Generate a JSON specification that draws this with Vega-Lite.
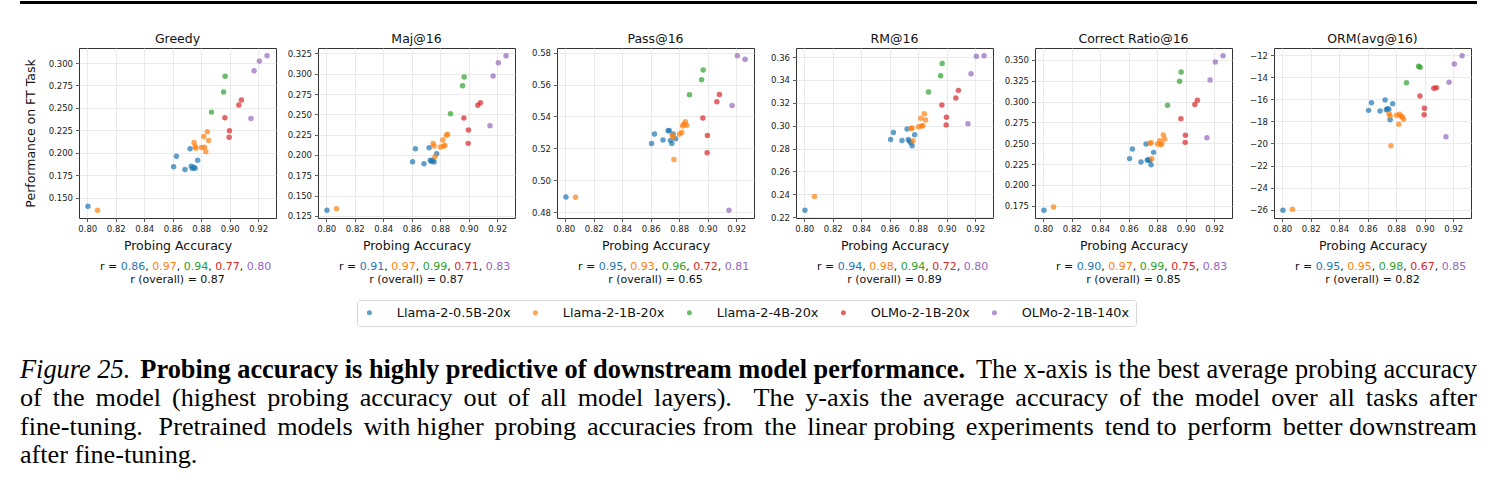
{
  "$schema": "https://vega.github.io/schema/vega-lite/v6.json",
  "background": "white",
  "padding": {"left": 18, "top": 0, "right": 10, "bottom": 10},
  "datasets": {
    "ckpt": [
      {"model": "Llama-2-0.5B-20x", "acc": 0.8005, "greedy": 0.1405, "maj": 0.132, "pass": 0.4895, "rm": 0.226, "cr": 0.1695, "orm": -26.05},
      {"model": "Llama-2-0.5B-20x", "acc": 0.8606, "greedy": 0.1845, "maj": 0.1917, "pass": 0.523, "rm": 0.288, "cr": 0.2315, "orm": -17.0},
      {"model": "Llama-2-0.5B-20x", "acc": 0.8626, "greedy": 0.1961, "maj": 0.2077, "pass": 0.529, "rm": 0.294, "cr": 0.243, "orm": -16.3},
      {"model": "Llama-2-0.5B-20x", "acc": 0.8686, "greedy": 0.1815, "maj": 0.1893, "pass": 0.5253, "rm": 0.287, "cr": 0.2275, "orm": -17.05},
      {"model": "Llama-2-0.5B-20x", "acc": 0.8722, "greedy": 0.2044, "maj": 0.2089, "pass": 0.531, "rm": 0.297, "cr": 0.249, "orm": -16.05},
      {"model": "Llama-2-0.5B-20x", "acc": 0.873, "greedy": 0.185, "maj": 0.1935, "pass": 0.5312, "rm": 0.288, "cr": 0.2295, "orm": -16.95},
      {"model": "Llama-2-0.5B-20x", "acc": 0.8738, "greedy": 0.1825, "maj": 0.192, "pass": 0.525, "rm": 0.2865, "cr": 0.2305, "orm": -16.85},
      {"model": "Llama-2-0.5B-20x", "acc": 0.8748, "greedy": 0.184, "maj": 0.1935, "pass": 0.523, "rm": 0.285, "cr": 0.229, "orm": -16.9},
      {"model": "Llama-2-0.5B-20x", "acc": 0.8757, "greedy": 0.1828, "maj": 0.1915, "pass": 0.529, "rm": 0.2825, "cr": 0.224, "orm": -17.85},
      {"model": "Llama-2-0.5B-20x", "acc": 0.8775, "greedy": 0.1916, "maj": 0.2016, "pass": 0.526, "rm": 0.292, "cr": 0.239, "orm": -16.4},
      {"model": "Llama-2-1B-20x", "acc": 0.8072, "greedy": 0.136, "maj": 0.134, "pass": 0.4893, "rm": 0.238, "cr": 0.1735, "orm": -25.95},
      {"model": "Llama-2-1B-20x", "acc": 0.875, "greedy": 0.2114, "maj": 0.214, "pass": 0.5282, "rm": 0.2975, "cr": 0.25, "orm": -17.3},
      {"model": "Llama-2-1B-20x", "acc": 0.8757, "greedy": 0.2069, "maj": 0.211, "pass": 0.5272, "rm": 0.298, "cr": 0.2505, "orm": -17.5},
      {"model": "Llama-2-1B-20x", "acc": 0.8763, "greedy": 0.205, "maj": 0.1979, "pass": 0.513, "rm": 0.2868, "cr": 0.2315, "orm": -20.2},
      {"model": "Llama-2-1B-20x", "acc": 0.8802, "greedy": 0.2058, "maj": 0.2098, "pass": 0.529, "rm": 0.299, "cr": 0.249, "orm": -17.45},
      {"model": "Llama-2-1B-20x", "acc": 0.8818, "greedy": 0.2181, "maj": 0.2184, "pass": 0.53, "rm": 0.3065, "cr": 0.253, "orm": -18.25},
      {"model": "Llama-2-1B-20x", "acc": 0.8824, "greedy": 0.2062, "maj": 0.2107, "pass": 0.534, "rm": 0.2998, "cr": 0.248, "orm": -17.35},
      {"model": "Llama-2-1B-20x", "acc": 0.8832, "greedy": 0.2013, "maj": 0.212, "pass": 0.5352, "rm": 0.3, "cr": 0.2495, "orm": -17.5},
      {"model": "Llama-2-1B-20x", "acc": 0.8843, "greedy": 0.2234, "maj": 0.2242, "pass": 0.5367, "rm": 0.3105, "cr": 0.26, "orm": -17.6},
      {"model": "Llama-2-1B-20x", "acc": 0.8852, "greedy": 0.2136, "maj": 0.2255, "pass": 0.5345, "rm": 0.305, "cr": 0.255, "orm": -17.8},
      {"model": "Llama-2-4B-20x", "acc": 0.8872, "greedy": 0.2453, "maj": 0.2508, "pass": 0.5536, "rm": 0.3295, "cr": 0.2955, "orm": -14.5},
      {"model": "Llama-2-4B-20x", "acc": 0.8957, "greedy": 0.2678, "maj": 0.2852, "pass": 0.5631, "rm": 0.3437, "cr": 0.3244, "orm": -13.0},
      {"model": "Llama-2-4B-20x", "acc": 0.8968, "greedy": 0.2853, "maj": 0.2959, "pass": 0.5692, "rm": 0.3545, "cr": 0.3355, "orm": -13.1},
      {"model": "OLMo-2-1B-20x", "acc": 0.8966, "greedy": 0.2391, "maj": 0.2455, "pass": 0.539, "rm": 0.3181, "cr": 0.2795, "orm": -15.7},
      {"model": "OLMo-2-1B-20x", "acc": 0.8996, "greedy": 0.2174, "maj": 0.2143, "pass": 0.5173, "rm": 0.3007, "cr": 0.251, "orm": -17.4},
      {"model": "OLMo-2-1B-20x", "acc": 0.8998, "greedy": 0.2245, "maj": 0.2307, "pass": 0.5281, "rm": 0.3074, "cr": 0.2595, "orm": -16.8},
      {"model": "OLMo-2-1B-20x", "acc": 0.9064, "greedy": 0.2532, "maj": 0.2611, "pass": 0.5492, "rm": 0.3242, "cr": 0.2965, "orm": -15.0},
      {"model": "OLMo-2-1B-20x", "acc": 0.9082, "greedy": 0.2588, "maj": 0.2643, "pass": 0.5538, "rm": 0.3309, "cr": 0.3015, "orm": -14.95},
      {"model": "OLMo-2-1B-140x", "acc": 0.9149, "greedy": 0.2383, "maj": 0.236, "pass": 0.4812, "rm": 0.3018, "cr": 0.2565, "orm": -19.4},
      {"model": "OLMo-2-1B-140x", "acc": 0.9171, "greedy": 0.2913, "maj": 0.2971, "pass": 0.5469, "rm": 0.3454, "cr": 0.326, "orm": -14.45},
      {"model": "OLMo-2-1B-140x", "acc": 0.9208, "greedy": 0.3021, "maj": 0.3135, "pass": 0.5781, "rm": 0.3608, "cr": 0.3475, "orm": -12.8},
      {"model": "OLMo-2-1B-140x", "acc": 0.9262, "greedy": 0.3081, "maj": 0.3221, "pass": 0.5759, "rm": 0.3612, "cr": 0.355, "orm": -12.05}
    ],
    "rvals": [
      {"metric": "greedy", "model": "Llama-2-0.5B-20x", "r": 0.86},
      {"metric": "greedy", "model": "Llama-2-1B-20x", "r": 0.97},
      {"metric": "greedy", "model": "Llama-2-4B-20x", "r": 0.94},
      {"metric": "greedy", "model": "OLMo-2-1B-20x", "r": 0.77},
      {"metric": "greedy", "model": "OLMo-2-1B-140x", "r": 0.80},
      {"metric": "maj", "model": "Llama-2-0.5B-20x", "r": 0.91},
      {"metric": "maj", "model": "Llama-2-1B-20x", "r": 0.97},
      {"metric": "maj", "model": "Llama-2-4B-20x", "r": 0.99},
      {"metric": "maj", "model": "OLMo-2-1B-20x", "r": 0.71},
      {"metric": "maj", "model": "OLMo-2-1B-140x", "r": 0.83},
      {"metric": "pass", "model": "Llama-2-0.5B-20x", "r": 0.95},
      {"metric": "pass", "model": "Llama-2-1B-20x", "r": 0.93},
      {"metric": "pass", "model": "Llama-2-4B-20x", "r": 0.96},
      {"metric": "pass", "model": "OLMo-2-1B-20x", "r": 0.72},
      {"metric": "pass", "model": "OLMo-2-1B-140x", "r": 0.81},
      {"metric": "rm", "model": "Llama-2-0.5B-20x", "r": 0.94},
      {"metric": "rm", "model": "Llama-2-1B-20x", "r": 0.98},
      {"metric": "rm", "model": "Llama-2-4B-20x", "r": 0.94},
      {"metric": "rm", "model": "OLMo-2-1B-20x", "r": 0.72},
      {"metric": "rm", "model": "OLMo-2-1B-140x", "r": 0.80},
      {"metric": "cr", "model": "Llama-2-0.5B-20x", "r": 0.90},
      {"metric": "cr", "model": "Llama-2-1B-20x", "r": 0.97},
      {"metric": "cr", "model": "Llama-2-4B-20x", "r": 0.99},
      {"metric": "cr", "model": "OLMo-2-1B-20x", "r": 0.75},
      {"metric": "cr", "model": "OLMo-2-1B-140x", "r": 0.83},
      {"metric": "orm", "model": "Llama-2-0.5B-20x", "r": 0.95},
      {"metric": "orm", "model": "Llama-2-1B-20x", "r": 0.95},
      {"metric": "orm", "model": "Llama-2-4B-20x", "r": 0.98},
      {"metric": "orm", "model": "OLMo-2-1B-20x", "r": 0.67},
      {"metric": "orm", "model": "OLMo-2-1B-140x", "r": 0.85}
    ],
    "overall": [
      {"metric": "greedy", "name": "Greedy", "label": "r (overall) = 0.87"},
      {"metric": "maj", "name": "Maj@16", "label": "r (overall) = 0.87"},
      {"metric": "pass", "name": "Pass@16", "label": "r (overall) = 0.65"},
      {"metric": "rm", "name": "RM@16", "label": "r (overall) = 0.89"},
      {"metric": "cr", "name": "Correct Ratio@16", "label": "r (overall) = 0.85"},
      {"metric": "orm", "name": "ORM(avg@16)", "label": "r (overall) = 0.82"}
    ]
  },
  "spacing": 42,
  "bounds": "flush",
  "hconcat": [
    {
      "width": 197, "height": 170,
      "layer": [
        {
          "data": {"name": "ckpt"},
          "mark": {"type": "circle", "size": 30, "opacity": 0.7},
          "encoding": {
            "x": {"field": "acc", "type": "quantitative", "scale": {"zero": false, "nice": false, "padding": 8.95}, "axis": {"values": [0.8, 0.82, 0.84, 0.86, 0.88, 0.9, 0.92], "format": ".2f", "title": "Probing Accuracy"}},
            "y": {"field": "greedy", "type": "quantitative", "scale": {"zero": false, "nice": false, "padding": 7.73}, "axis": {"values": [0.15, 0.175, 0.2, 0.225, 0.25, 0.275, 0.3], "format": ".3f", "title": "Performance on FT Task"}},
            "color": {"field": "model", "type": "nominal", "scale": {"domain": ["Llama-2-0.5B-20x", "Llama-2-1B-20x", "Llama-2-4B-20x", "OLMo-2-1B-20x", "OLMo-2-1B-140x"], "range": ["#1f77b4", "#ff7f0e", "#2ca02c", "#d62728", "#9467bd"]}, "legend": {"title": null}}
          }
        },
        {
          "data": {"name": "rvals"},
          "transform": [{"filter": "datum.metric === 'greedy'"}],
          "mark": {"type": "text", "fontSize": 11, "baseline": "middle", "y": 218.7},
          "encoding": {
            "x": {"field": "model", "type": "nominal", "scale": {"type": "point", "domain": ["Llama-2-0.5B-20x", "Llama-2-1B-20x", "Llama-2-4B-20x", "OLMo-2-1B-20x", "OLMo-2-1B-140x"], "range": [53.95, 179.95], "padding": 0}, "axis": null},
            "text": {"field": "r", "type": "quantitative", "format": ".2f"},
            "fill": {"field": "model", "type": "nominal", "scale": {"domain": ["Llama-2-0.5B-20x", "Llama-2-1B-20x", "Llama-2-4B-20x", "OLMo-2-1B-20x", "OLMo-2-1B-140x"], "range": ["#1f77b4", "#ff7f0e", "#2ca02c", "#d62728", "#9467bd"]}, "legend": null}
          }
        },
        {
          "data": {"name": "rvals"},
          "transform": [{"filter": "datum.metric === 'greedy' && datum.model !== 'OLMo-2-1B-140x'"}],
          "mark": {"type": "text", "text": ",", "fontSize": 11, "baseline": "middle", "align": "left", "dx": 12.25, "y": 218.7, "color": "#111"},
          "encoding": {"x": {"field": "model", "type": "nominal", "scale": {"type": "point", "domain": ["Llama-2-0.5B-20x", "Llama-2-1B-20x", "Llama-2-4B-20x", "OLMo-2-1B-20x", "OLMo-2-1B-140x"], "range": [53.95, 179.95], "padding": 0}, "axis": null}}
        },
        {
          "data": {"name": "rvals"},
          "transform": [{"filter": "datum.metric === 'greedy' && datum.model === 'Llama-2-0.5B-20x'"}],
          "mark": {"type": "text", "text": "r =", "fontSize": 11, "baseline": "middle", "align": "right", "dx": -15.75, "y": 218.7, "color": "#111"},
          "encoding": {"x": {"field": "model", "type": "nominal", "scale": {"type": "point", "domain": ["Llama-2-0.5B-20x", "Llama-2-1B-20x", "Llama-2-4B-20x", "OLMo-2-1B-20x", "OLMo-2-1B-140x"], "range": [53.95, 179.95], "padding": 0}, "axis": null}}
        },
        {
          "data": {"name": "overall"},
          "transform": [{"filter": "datum.metric === 'greedy'"}],
          "mark": {"type": "text", "fontSize": 11, "baseline": "middle", "align": "center", "x": 98.5, "y": 232.3, "color": "#111"},
          "encoding": {"text": {"field": "label", "type": "nominal"}}
        },
        {
          "data": {"name": "overall"},
          "transform": [{"filter": "datum.metric === 'greedy'"}],
          "mark": {"type": "text", "fontSize": 12.5, "baseline": "alphabetic", "align": "center", "x": 98.5, "y": -5.5, "color": "#111"},
          "encoding": {"text": {"field": "name", "type": "nominal"}}
        },
        {
          "data": {"values": [{}]},
          "mark": {"type": "rule", "strokeWidth": 3, "color": "#000", "strokeCap": "butt"},
          "encoding": {"x": {"value": -59}, "x2": {"value": 1398}, "y": {"value": -45.5}}
        },
        {
          "data": {"values": [{}]},
          "mark": {"type": "text", "text": "Figure 25.", "font": "Liberation Serif", "fontStyle": "italic", "fontSize": 26.35, "align": "left", "baseline": "alphabetic", "x": -59, "y": 330, "color": "#000"},
          "encoding": {}
        },
        {
          "data": {"values": [{}]},
          "mark": {"type": "text", "text": "Probing accuracy is highly predictive of downstream model performance.", "font": "Liberation Serif", "fontWeight": "bold", "fontSize": 26.35, "align": "left", "baseline": "alphabetic", "x": 61.35, "y": 330, "color": "#000"},
          "encoding": {}
        },
        {
          "data": {"values": [{}]},
          "mark": {"type": "text", "text": "The x-axis is the best average probing accuracy", "font": "Liberation Serif", "fontSize": 26.35, "align": "right", "baseline": "alphabetic", "x": 1398, "y": 330, "color": "#000"},
          "encoding": {}
        },
        {
          "data": {"values": [{}]},
          "mark": {"type": "text", "text": "of \u2006the \u2006model \u2006(highest \u2006probing \u2006accuracy \u2006out \u2006of \u2006all \u2006model \u2006layers).", "font": "Liberation Serif", "fontSize": 26.2, "align": "left", "baseline": "alphabetic", "x": -59, "y": 358.4, "color": "#000"},
          "encoding": {}
        },
        {
          "data": {"values": [{}]},
          "mark": {"type": "text", "text": "The \u2006y-axis \u2006the \u2006average \u2006accuracy \u2006of \u2006the \u2006model \u2006over \u2006all \u2006tasks \u2006after", "font": "Liberation Serif", "fontSize": 26.2, "align": "right", "baseline": "alphabetic", "x": 1398, "y": 358.4, "color": "#000"},
          "encoding": {}
        },
        {
          "data": {"values": [{}]},
          "mark": {"type": "text", "text": "fine-tuning.", "font": "Liberation Serif", "fontSize": 26.2, "align": "left", "baseline": "alphabetic", "x": -59, "y": 386.8, "color": "#000"},
          "encoding": {}
        },
        {
          "data": {"values": [{}]},
          "mark": {"type": "text", "text": "Pretrained \u2006models \u2006with higher \u2006probing \u2006accuracies from \u2006the \u2006linear probing \u2006experiments \u2006tend to \u2006perform \u2006better downstream", "font": "Liberation Serif", "fontSize": 26.2, "align": "right", "baseline": "alphabetic", "x": 1398, "y": 386.8, "color": "#000"},
          "encoding": {}
        },
        {
          "data": {"values": [{}]},
          "mark": {"type": "text", "text": "after fine-tuning.", "font": "Liberation Serif", "fontSize": 26.2, "align": "left", "baseline": "alphabetic", "x": -59, "y": 415.2, "color": "#000"},
          "encoding": {}
        }
      ],
      "resolve": {"scale": {"x": "independent"}}
    },
    {
      "width": 197, "height": 170,
      "layer": [
        {
          "data": {"name": "ckpt"},
          "mark": {"type": "circle", "size": 30, "opacity": 0.7},
          "encoding": {
            "x": {"field": "acc", "type": "quantitative", "scale": {"zero": false, "nice": false, "padding": 8.95}, "axis": {"values": [0.8, 0.82, 0.84, 0.86, 0.88, 0.9, 0.92], "format": ".2f", "title": "Probing Accuracy"}},
            "y": {"field": "maj", "type": "quantitative", "scale": {"zero": false, "nice": false, "padding": 7.73}, "axis": {"values": [0.125, 0.15, 0.175, 0.2, 0.225, 0.25, 0.275, 0.3, 0.325], "format": ".3f", "title": null}},
            "color": {"field": "model", "type": "nominal", "scale": {"domain": ["Llama-2-0.5B-20x", "Llama-2-1B-20x", "Llama-2-4B-20x", "OLMo-2-1B-20x", "OLMo-2-1B-140x"], "range": ["#1f77b4", "#ff7f0e", "#2ca02c", "#d62728", "#9467bd"]}, "legend": {"title": null}}
          }
        },
        {
          "data": {"name": "rvals"},
          "transform": [{"filter": "datum.metric === 'maj'"}],
          "mark": {"type": "text", "fontSize": 11, "baseline": "middle", "y": 218.7},
          "encoding": {
            "x": {"field": "model", "type": "nominal", "scale": {"type": "point", "domain": ["Llama-2-0.5B-20x", "Llama-2-1B-20x", "Llama-2-4B-20x", "OLMo-2-1B-20x", "OLMo-2-1B-140x"], "range": [53.95, 179.95], "padding": 0}, "axis": null},
            "text": {"field": "r", "type": "quantitative", "format": ".2f"},
            "fill": {"field": "model", "type": "nominal", "scale": {"domain": ["Llama-2-0.5B-20x", "Llama-2-1B-20x", "Llama-2-4B-20x", "OLMo-2-1B-20x", "OLMo-2-1B-140x"], "range": ["#1f77b4", "#ff7f0e", "#2ca02c", "#d62728", "#9467bd"]}, "legend": null}
          }
        },
        {
          "data": {"name": "rvals"},
          "transform": [{"filter": "datum.metric === 'maj' && datum.model !== 'OLMo-2-1B-140x'"}],
          "mark": {"type": "text", "text": ",", "fontSize": 11, "baseline": "middle", "align": "left", "dx": 12.25, "y": 218.7, "color": "#111"},
          "encoding": {"x": {"field": "model", "type": "nominal", "scale": {"type": "point", "domain": ["Llama-2-0.5B-20x", "Llama-2-1B-20x", "Llama-2-4B-20x", "OLMo-2-1B-20x", "OLMo-2-1B-140x"], "range": [53.95, 179.95], "padding": 0}, "axis": null}}
        },
        {
          "data": {"name": "rvals"},
          "transform": [{"filter": "datum.metric === 'maj' && datum.model === 'Llama-2-0.5B-20x'"}],
          "mark": {"type": "text", "text": "r =", "fontSize": 11, "baseline": "middle", "align": "right", "dx": -15.75, "y": 218.7, "color": "#111"},
          "encoding": {"x": {"field": "model", "type": "nominal", "scale": {"type": "point", "domain": ["Llama-2-0.5B-20x", "Llama-2-1B-20x", "Llama-2-4B-20x", "OLMo-2-1B-20x", "OLMo-2-1B-140x"], "range": [53.95, 179.95], "padding": 0}, "axis": null}}
        },
        {
          "data": {"name": "overall"},
          "transform": [{"filter": "datum.metric === 'maj'"}],
          "mark": {"type": "text", "fontSize": 11, "baseline": "middle", "align": "center", "x": 98.5, "y": 232.3, "color": "#111"},
          "encoding": {"text": {"field": "label", "type": "nominal"}}
        },
        {
          "data": {"name": "overall"},
          "transform": [{"filter": "datum.metric === 'maj'"}],
          "mark": {"type": "text", "fontSize": 12.5, "baseline": "alphabetic", "align": "center", "x": 98.5, "y": -5.5, "color": "#111"},
          "encoding": {"text": {"field": "name", "type": "nominal"}}
        }
      ],
      "resolve": {"scale": {"x": "independent"}}
    },
    {
      "width": 197, "height": 170,
      "layer": [
        {
          "data": {"name": "ckpt"},
          "mark": {"type": "circle", "size": 30, "opacity": 0.7},
          "encoding": {
            "x": {"field": "acc", "type": "quantitative", "scale": {"zero": false, "nice": false, "padding": 8.95}, "axis": {"values": [0.8, 0.82, 0.84, 0.86, 0.88, 0.9, 0.92], "format": ".2f", "title": "Probing Accuracy"}},
            "y": {"field": "pass", "type": "quantitative", "scale": {"zero": false, "nice": false, "padding": 7.73}, "axis": {"values": [0.48, 0.5, 0.52, 0.54, 0.56, 0.58], "format": ".2f", "title": null}},
            "color": {"field": "model", "type": "nominal", "scale": {"domain": ["Llama-2-0.5B-20x", "Llama-2-1B-20x", "Llama-2-4B-20x", "OLMo-2-1B-20x", "OLMo-2-1B-140x"], "range": ["#1f77b4", "#ff7f0e", "#2ca02c", "#d62728", "#9467bd"]}, "legend": {"title": null}}
          }
        },
        {
          "data": {"name": "rvals"},
          "transform": [{"filter": "datum.metric === 'pass'"}],
          "mark": {"type": "text", "fontSize": 11, "baseline": "middle", "y": 218.7},
          "encoding": {
            "x": {"field": "model", "type": "nominal", "scale": {"type": "point", "domain": ["Llama-2-0.5B-20x", "Llama-2-1B-20x", "Llama-2-4B-20x", "OLMo-2-1B-20x", "OLMo-2-1B-140x"], "range": [53.95, 179.95], "padding": 0}, "axis": null},
            "text": {"field": "r", "type": "quantitative", "format": ".2f"},
            "fill": {"field": "model", "type": "nominal", "scale": {"domain": ["Llama-2-0.5B-20x", "Llama-2-1B-20x", "Llama-2-4B-20x", "OLMo-2-1B-20x", "OLMo-2-1B-140x"], "range": ["#1f77b4", "#ff7f0e", "#2ca02c", "#d62728", "#9467bd"]}, "legend": null}
          }
        },
        {
          "data": {"name": "rvals"},
          "transform": [{"filter": "datum.metric === 'pass' && datum.model !== 'OLMo-2-1B-140x'"}],
          "mark": {"type": "text", "text": ",", "fontSize": 11, "baseline": "middle", "align": "left", "dx": 12.25, "y": 218.7, "color": "#111"},
          "encoding": {"x": {"field": "model", "type": "nominal", "scale": {"type": "point", "domain": ["Llama-2-0.5B-20x", "Llama-2-1B-20x", "Llama-2-4B-20x", "OLMo-2-1B-20x", "OLMo-2-1B-140x"], "range": [53.95, 179.95], "padding": 0}, "axis": null}}
        },
        {
          "data": {"name": "rvals"},
          "transform": [{"filter": "datum.metric === 'pass' && datum.model === 'Llama-2-0.5B-20x'"}],
          "mark": {"type": "text", "text": "r =", "fontSize": 11, "baseline": "middle", "align": "right", "dx": -15.75, "y": 218.7, "color": "#111"},
          "encoding": {"x": {"field": "model", "type": "nominal", "scale": {"type": "point", "domain": ["Llama-2-0.5B-20x", "Llama-2-1B-20x", "Llama-2-4B-20x", "OLMo-2-1B-20x", "OLMo-2-1B-140x"], "range": [53.95, 179.95], "padding": 0}, "axis": null}}
        },
        {
          "data": {"name": "overall"},
          "transform": [{"filter": "datum.metric === 'pass'"}],
          "mark": {"type": "text", "fontSize": 11, "baseline": "middle", "align": "center", "x": 98.5, "y": 232.3, "color": "#111"},
          "encoding": {"text": {"field": "label", "type": "nominal"}}
        },
        {
          "data": {"name": "overall"},
          "transform": [{"filter": "datum.metric === 'pass'"}],
          "mark": {"type": "text", "fontSize": 12.5, "baseline": "alphabetic", "align": "center", "x": 98.5, "y": -5.5, "color": "#111"},
          "encoding": {"text": {"field": "name", "type": "nominal"}}
        }
      ],
      "resolve": {"scale": {"x": "independent"}}
    },
    {
      "width": 197, "height": 170,
      "layer": [
        {
          "data": {"name": "ckpt"},
          "mark": {"type": "circle", "size": 30, "opacity": 0.7},
          "encoding": {
            "x": {"field": "acc", "type": "quantitative", "scale": {"zero": false, "nice": false, "padding": 8.95}, "axis": {"values": [0.8, 0.82, 0.84, 0.86, 0.88, 0.9, 0.92], "format": ".2f", "title": "Probing Accuracy"}},
            "y": {"field": "rm", "type": "quantitative", "scale": {"zero": false, "nice": false, "padding": 7.73}, "axis": {"values": [0.22, 0.24, 0.26, 0.28, 0.3, 0.32, 0.34, 0.36], "format": ".2f", "title": null}},
            "color": {"field": "model", "type": "nominal", "scale": {"domain": ["Llama-2-0.5B-20x", "Llama-2-1B-20x", "Llama-2-4B-20x", "OLMo-2-1B-20x", "OLMo-2-1B-140x"], "range": ["#1f77b4", "#ff7f0e", "#2ca02c", "#d62728", "#9467bd"]}, "legend": {"title": null}}
          }
        },
        {
          "data": {"name": "rvals"},
          "transform": [{"filter": "datum.metric === 'rm'"}],
          "mark": {"type": "text", "fontSize": 11, "baseline": "middle", "y": 218.7},
          "encoding": {
            "x": {"field": "model", "type": "nominal", "scale": {"type": "point", "domain": ["Llama-2-0.5B-20x", "Llama-2-1B-20x", "Llama-2-4B-20x", "OLMo-2-1B-20x", "OLMo-2-1B-140x"], "range": [53.95, 179.95], "padding": 0}, "axis": null},
            "text": {"field": "r", "type": "quantitative", "format": ".2f"},
            "fill": {"field": "model", "type": "nominal", "scale": {"domain": ["Llama-2-0.5B-20x", "Llama-2-1B-20x", "Llama-2-4B-20x", "OLMo-2-1B-20x", "OLMo-2-1B-140x"], "range": ["#1f77b4", "#ff7f0e", "#2ca02c", "#d62728", "#9467bd"]}, "legend": null}
          }
        },
        {
          "data": {"name": "rvals"},
          "transform": [{"filter": "datum.metric === 'rm' && datum.model !== 'OLMo-2-1B-140x'"}],
          "mark": {"type": "text", "text": ",", "fontSize": 11, "baseline": "middle", "align": "left", "dx": 12.25, "y": 218.7, "color": "#111"},
          "encoding": {"x": {"field": "model", "type": "nominal", "scale": {"type": "point", "domain": ["Llama-2-0.5B-20x", "Llama-2-1B-20x", "Llama-2-4B-20x", "OLMo-2-1B-20x", "OLMo-2-1B-140x"], "range": [53.95, 179.95], "padding": 0}, "axis": null}}
        },
        {
          "data": {"name": "rvals"},
          "transform": [{"filter": "datum.metric === 'rm' && datum.model === 'Llama-2-0.5B-20x'"}],
          "mark": {"type": "text", "text": "r =", "fontSize": 11, "baseline": "middle", "align": "right", "dx": -15.75, "y": 218.7, "color": "#111"},
          "encoding": {"x": {"field": "model", "type": "nominal", "scale": {"type": "point", "domain": ["Llama-2-0.5B-20x", "Llama-2-1B-20x", "Llama-2-4B-20x", "OLMo-2-1B-20x", "OLMo-2-1B-140x"], "range": [53.95, 179.95], "padding": 0}, "axis": null}}
        },
        {
          "data": {"name": "overall"},
          "transform": [{"filter": "datum.metric === 'rm'"}],
          "mark": {"type": "text", "fontSize": 11, "baseline": "middle", "align": "center", "x": 98.5, "y": 232.3, "color": "#111"},
          "encoding": {"text": {"field": "label", "type": "nominal"}}
        },
        {
          "data": {"name": "overall"},
          "transform": [{"filter": "datum.metric === 'rm'"}],
          "mark": {"type": "text", "fontSize": 12.5, "baseline": "alphabetic", "align": "center", "x": 98.5, "y": -5.5, "color": "#111"},
          "encoding": {"text": {"field": "name", "type": "nominal"}}
        }
      ],
      "resolve": {"scale": {"x": "independent"}}
    },
    {
      "width": 197, "height": 170,
      "layer": [
        {
          "data": {"name": "ckpt"},
          "mark": {"type": "circle", "size": 30, "opacity": 0.7},
          "encoding": {
            "x": {"field": "acc", "type": "quantitative", "scale": {"zero": false, "nice": false, "padding": 8.95}, "axis": {"values": [0.8, 0.82, 0.84, 0.86, 0.88, 0.9, 0.92], "format": ".2f", "title": "Probing Accuracy"}},
            "y": {"field": "cr", "type": "quantitative", "scale": {"zero": false, "nice": false, "padding": 7.73}, "axis": {"values": [0.175, 0.2, 0.225, 0.25, 0.275, 0.3, 0.325, 0.35], "format": ".3f", "title": null}},
            "color": {"field": "model", "type": "nominal", "scale": {"domain": ["Llama-2-0.5B-20x", "Llama-2-1B-20x", "Llama-2-4B-20x", "OLMo-2-1B-20x", "OLMo-2-1B-140x"], "range": ["#1f77b4", "#ff7f0e", "#2ca02c", "#d62728", "#9467bd"]}, "legend": {"title": null}}
          }
        },
        {
          "data": {"name": "rvals"},
          "transform": [{"filter": "datum.metric === 'cr'"}],
          "mark": {"type": "text", "fontSize": 11, "baseline": "middle", "y": 218.7},
          "encoding": {
            "x": {"field": "model", "type": "nominal", "scale": {"type": "point", "domain": ["Llama-2-0.5B-20x", "Llama-2-1B-20x", "Llama-2-4B-20x", "OLMo-2-1B-20x", "OLMo-2-1B-140x"], "range": [53.95, 179.95], "padding": 0}, "axis": null},
            "text": {"field": "r", "type": "quantitative", "format": ".2f"},
            "fill": {"field": "model", "type": "nominal", "scale": {"domain": ["Llama-2-0.5B-20x", "Llama-2-1B-20x", "Llama-2-4B-20x", "OLMo-2-1B-20x", "OLMo-2-1B-140x"], "range": ["#1f77b4", "#ff7f0e", "#2ca02c", "#d62728", "#9467bd"]}, "legend": null}
          }
        },
        {
          "data": {"name": "rvals"},
          "transform": [{"filter": "datum.metric === 'cr' && datum.model !== 'OLMo-2-1B-140x'"}],
          "mark": {"type": "text", "text": ",", "fontSize": 11, "baseline": "middle", "align": "left", "dx": 12.25, "y": 218.7, "color": "#111"},
          "encoding": {"x": {"field": "model", "type": "nominal", "scale": {"type": "point", "domain": ["Llama-2-0.5B-20x", "Llama-2-1B-20x", "Llama-2-4B-20x", "OLMo-2-1B-20x", "OLMo-2-1B-140x"], "range": [53.95, 179.95], "padding": 0}, "axis": null}}
        },
        {
          "data": {"name": "rvals"},
          "transform": [{"filter": "datum.metric === 'cr' && datum.model === 'Llama-2-0.5B-20x'"}],
          "mark": {"type": "text", "text": "r =", "fontSize": 11, "baseline": "middle", "align": "right", "dx": -15.75, "y": 218.7, "color": "#111"},
          "encoding": {"x": {"field": "model", "type": "nominal", "scale": {"type": "point", "domain": ["Llama-2-0.5B-20x", "Llama-2-1B-20x", "Llama-2-4B-20x", "OLMo-2-1B-20x", "OLMo-2-1B-140x"], "range": [53.95, 179.95], "padding": 0}, "axis": null}}
        },
        {
          "data": {"name": "overall"},
          "transform": [{"filter": "datum.metric === 'cr'"}],
          "mark": {"type": "text", "fontSize": 11, "baseline": "middle", "align": "center", "x": 98.5, "y": 232.3, "color": "#111"},
          "encoding": {"text": {"field": "label", "type": "nominal"}}
        },
        {
          "data": {"name": "overall"},
          "transform": [{"filter": "datum.metric === 'cr'"}],
          "mark": {"type": "text", "fontSize": 12.5, "baseline": "alphabetic", "align": "center", "x": 98.5, "y": -5.5, "color": "#111"},
          "encoding": {"text": {"field": "name", "type": "nominal"}}
        }
      ],
      "resolve": {"scale": {"x": "independent"}}
    },
    {
      "width": 197, "height": 170,
      "layer": [
        {
          "data": {"name": "ckpt"},
          "mark": {"type": "circle", "size": 30, "opacity": 0.7},
          "encoding": {
            "x": {"field": "acc", "type": "quantitative", "scale": {"zero": false, "nice": false, "padding": 8.95}, "axis": {"values": [0.8, 0.82, 0.84, 0.86, 0.88, 0.9, 0.92], "format": ".2f", "title": "Probing Accuracy"}},
            "y": {"field": "orm", "type": "quantitative", "scale": {"zero": false, "nice": false, "padding": 7.73}, "axis": {"values": [-26, -24, -22, -20, -18, -16, -14, -12], "format": "d", "title": null}},
            "color": {"field": "model", "type": "nominal", "scale": {"domain": ["Llama-2-0.5B-20x", "Llama-2-1B-20x", "Llama-2-4B-20x", "OLMo-2-1B-20x", "OLMo-2-1B-140x"], "range": ["#1f77b4", "#ff7f0e", "#2ca02c", "#d62728", "#9467bd"]}, "legend": {"title": null}}
          }
        },
        {
          "data": {"name": "rvals"},
          "transform": [{"filter": "datum.metric === 'orm'"}],
          "mark": {"type": "text", "fontSize": 11, "baseline": "middle", "y": 218.7},
          "encoding": {
            "x": {"field": "model", "type": "nominal", "scale": {"type": "point", "domain": ["Llama-2-0.5B-20x", "Llama-2-1B-20x", "Llama-2-4B-20x", "OLMo-2-1B-20x", "OLMo-2-1B-140x"], "range": [53.95, 179.95], "padding": 0}, "axis": null},
            "text": {"field": "r", "type": "quantitative", "format": ".2f"},
            "fill": {"field": "model", "type": "nominal", "scale": {"domain": ["Llama-2-0.5B-20x", "Llama-2-1B-20x", "Llama-2-4B-20x", "OLMo-2-1B-20x", "OLMo-2-1B-140x"], "range": ["#1f77b4", "#ff7f0e", "#2ca02c", "#d62728", "#9467bd"]}, "legend": null}
          }
        },
        {
          "data": {"name": "rvals"},
          "transform": [{"filter": "datum.metric === 'orm' && datum.model !== 'OLMo-2-1B-140x'"}],
          "mark": {"type": "text", "text": ",", "fontSize": 11, "baseline": "middle", "align": "left", "dx": 12.25, "y": 218.7, "color": "#111"},
          "encoding": {"x": {"field": "model", "type": "nominal", "scale": {"type": "point", "domain": ["Llama-2-0.5B-20x", "Llama-2-1B-20x", "Llama-2-4B-20x", "OLMo-2-1B-20x", "OLMo-2-1B-140x"], "range": [53.95, 179.95], "padding": 0}, "axis": null}}
        },
        {
          "data": {"name": "rvals"},
          "transform": [{"filter": "datum.metric === 'orm' && datum.model === 'Llama-2-0.5B-20x'"}],
          "mark": {"type": "text", "text": "r =", "fontSize": 11, "baseline": "middle", "align": "right", "dx": -15.75, "y": 218.7, "color": "#111"},
          "encoding": {"x": {"field": "model", "type": "nominal", "scale": {"type": "point", "domain": ["Llama-2-0.5B-20x", "Llama-2-1B-20x", "Llama-2-4B-20x", "OLMo-2-1B-20x", "OLMo-2-1B-140x"], "range": [53.95, 179.95], "padding": 0}, "axis": null}}
        },
        {
          "data": {"name": "overall"},
          "transform": [{"filter": "datum.metric === 'orm'"}],
          "mark": {"type": "text", "fontSize": 11, "baseline": "middle", "align": "center", "x": 98.5, "y": 232.3, "color": "#111"},
          "encoding": {"text": {"field": "label", "type": "nominal"}}
        },
        {
          "data": {"name": "overall"},
          "transform": [{"filter": "datum.metric === 'orm'"}],
          "mark": {"type": "text", "fontSize": 12.5, "baseline": "alphabetic", "align": "center", "x": 98.5, "y": -5.5, "color": "#111"},
          "encoding": {"text": {"field": "name", "type": "nominal"}}
        }
      ],
      "resolve": {"scale": {"x": "independent"}}
    }
  ],
  "config": {
    "font": "DejaVu Sans",
    "view": {"stroke": "#333333", "strokeWidth": 1},
    "text": {"font": "DejaVu Sans"},
    "axis": {
      "labelFont": "DejaVu Sans", "labelFontSize": 8.5, "labelColor": "#222222",
      "titleFont": "DejaVu Sans", "titleFontSize": 12.5, "titleFontWeight": "normal", "titleColor": "#111111",
      "tickSize": 3.5, "tickColor": "#333333", "tickWidth": 0.8,
      "domain": false, "grid": true, "gridColor": "#e6e6e6", "gridWidth": 0.8,
      "labelPadding": 3, "labelFlush": false, "labelOverlap": false
    },
    "axisX": {"titlePadding": 6},
    "axisY": {"titlePadding": 11},
    "legend": {
      "orient": "none", "legendX": 278, "legendY": 252,
      "direction": "horizontal", "columns": 5,
      "labelFont": "DejaVu Sans", "labelFontSize": 12.8, "labelColor": "#111111",
      "symbolType": "circle", "symbolSize": 25, "symbolOpacity": 0.7, "symbolStrokeWidth": 0,
      "strokeColor": "#d9d9d9", "strokeWidth": 1, "cornerRadius": 3, "fillColor": "white",
      "padding": 6, "columnPadding": 18, "labelOffset": 21
    }
  }
}
